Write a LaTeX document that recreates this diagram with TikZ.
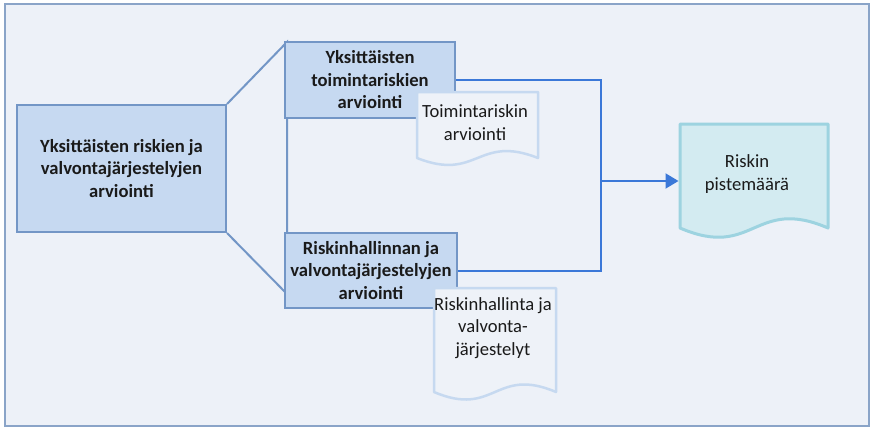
\documentclass[tikz,border=0pt]{standalone}
\usepackage{fontspec}
\setmainfont{Carlito}
\usetikzlibrary{arrows.meta}
\definecolor{bgc}{HTML}{EDF1F8}
\definecolor{framec}{HTML}{8AA4C8}
\definecolor{boxfill}{HTML}{C6D9F1}
\definecolor{boxdraw}{HTML}{7396C6}
\definecolor{connc}{HTML}{3B78D8}
\definecolor{docdraw}{HTML}{C6D9F0}
\definecolor{docfill}{HTML}{EEF2F8}
\definecolor{resfill}{HTML}{D3EBF1}
\definecolor{resdraw}{HTML}{9DD3E0}
\definecolor{txt}{HTML}{1A1A1A}
\begin{document}
\begin{tikzpicture}[x=1pt,y=-1pt,
  boxnode/.style={draw=boxdraw, fill=boxfill, line width=2pt, inner sep=0pt, align=center,
    text=txt, font=\fontsize{18.6}{22.5}\selectfont\bfseries},
  docshape/.style={draw=docdraw, fill=docfill, line width=2.5pt, line join=round},
  resshape/.style={draw=resdraw, fill=resfill, line width=3pt, line join=round},
  doctext/.style={inner sep=0pt, align=center, text=txt, font=\fontsize{18.6}{22.8}\selectfont},
  trap/.style={draw=boxdraw, line width=2pt},
  conn/.style={draw=connc, line width=2pt}]
\useasboundingbox (0,0) rectangle (873,429);
\draw[draw=framec, fill=bgc, line width=2pt] (5,4) rectangle (869,426);

% callout lines
\coordinate (tb) at (287,294);
\node[boxnode, minimum width=209pt, minimum height=127pt] (L) at (121.5,168.5)
  {Yksittäisten riskien ja\\valvontajärjestelyjen\\arviointi};
\coordinate (tt) at (287,42);
\draw[trap] (L.north east) -- (tt) -- (tb) -- (L.south east);

% connectors
\coordinate (jt) at (601,80);
\coordinate (jb) at (601,270.5);
\coordinate (jm) at (601,181);

\node[boxnode, minimum width=170pt, minimum height=76pt] (T) at (370,80)
  {Yksittäisten\\toimintariskien\\arviointi};
\node[boxnode, minimum width=172pt, minimum height=75pt] (B) at (371,270.5)
  {Riskinhallinnan ja\\valvontajärjestelyjen\\arviointi};

\draw[conn, line join=miter] (T.east) -- (jt) -- (jb) -- (B.east);

% documents
\path[docshape] (417,92) -- (538,92) -- (538,158)
  .. controls (477.5,134) and (477.5,182) .. (417,158) -- cycle
  node[doctext] (D1) at (475,123) {Toimintariskin\\arviointi};
\path[docshape] (434,288) -- (556,288) -- (556,392)
  .. controls (495,366) and (495,418) .. (434,392) -- cycle
  node[doctext] (D2) at (493,328) {Riskinhallinta ja\\valvonta-\\järjestelyt};
\path[resshape] (680,124) -- (828,124) -- (828,228)
  .. controls (754,196) and (754,260) .. (680,228) -- cycle
  node[doctext, minimum width=134pt] (D3) at (747,174) {Riskin\\pistemäärä};

\draw[conn, -{Triangle[length=13pt,width=15pt]}] (jm) -- (jm -| D3.west);
\end{tikzpicture}
\end{document}
